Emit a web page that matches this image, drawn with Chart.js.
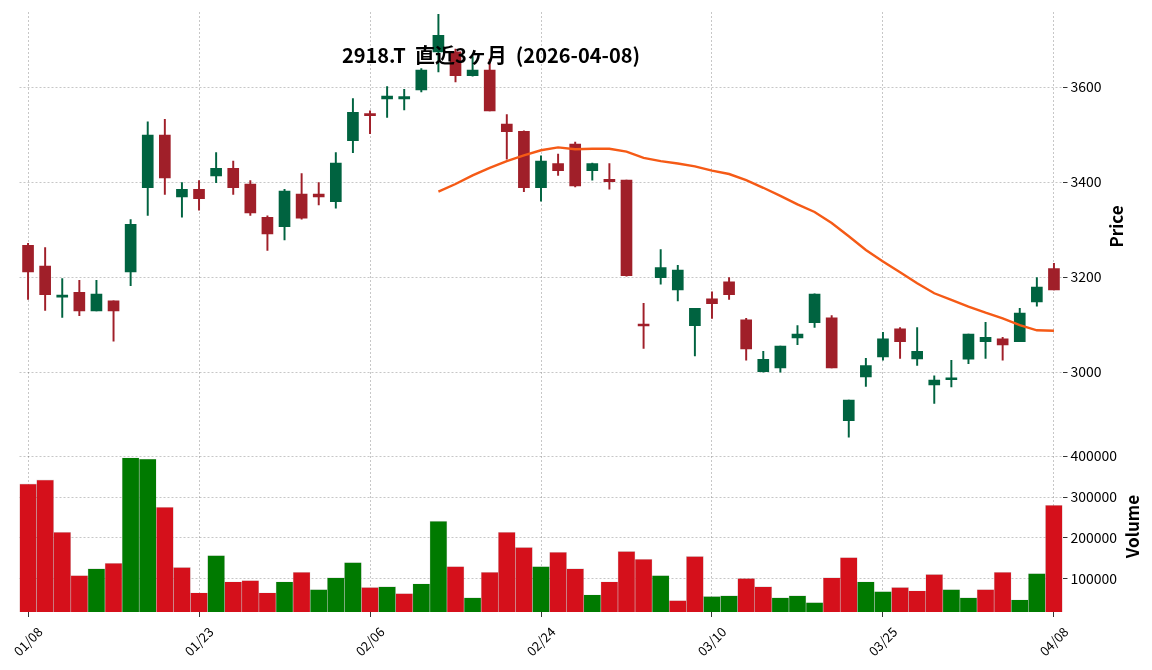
<!DOCTYPE html>
<html>
<head>
<meta charset="utf-8">
<script src="https://cdn.jsdelivr.net/npm/chart.js@4/dist/chart.umd.min.js"></script>
<style>
html, body { margin: 0; padding: 0; background: #fff; }
</style>
</head>
<body>
<canvas id="chart" width="1152" height="670"></canvas>
<script>
// 2918.T daily candles, last 3 months
var dates = ["01/08","01/09","01/13","01/14","01/15","01/16","01/19","01/20","01/21","01/22",
	"01/23","01/26","01/27","01/28","01/29","01/30","02/02","02/03","02/04","02/05",
	"02/06","02/09","02/10","02/12","02/13","02/16","02/17","02/18","02/19","02/20",
	"02/24","02/25","02/26","02/27","03/02","03/03","03/04","03/05","03/06","03/09",
	"03/10","03/11","03/12","03/13","03/16","03/17","03/18","03/19","03/23","03/24",
	"03/25","03/26","03/27","03/30","03/31","04/01","04/02","04/03","04/06","04/07",
	"04/08"];
var opens = [3267,3223,3158,3168,3129,3150,3211,3388,3499,3369,
	3385,3413,3429,3396,3326,3306,3375,3375,3359,3487,
	3544,3575,3575,3594,3674,3674,3624,3636,3522,3507,
	3388,3439,3480,3424,3406,3404,3101,3199,3173,3098,
	3154,3190,3110,3001,3009,3072,3104,3114,2898,2990,
	3032,3091,3028,2973,2984,3027,3064,3070,3064,3148,
	3218];
var highs = [3271,3262,3197,3193,3193,3150,3321,3527,3532,3399,
	3403,3462,3444,3403,3329,3385,3418,3399,3462,3576,
	3550,3601,3595,3639,3753,3680,3664,3659,3542,3508,
	3455,3459,3484,3440,3439,3404,3145,3258,3225,3134,
	3169,3199,3113,3044,3055,3098,3165,3119,2941,3029,
	3084,3094,3094,2992,3025,3080,3105,3073,3134,3199,
	3229];
var lows = [3153,3130,3115,3119,3129,3065,3182,3330,3374,3326,
	3341,3399,3374,3330,3256,3278,3322,3352,3345,3462,
	3502,3536,3552,3590,3632,3611,3623,3550,3448,3380,
	3360,3414,3390,3404,3385,3202,3050,3185,3150,3034,
	3113,3153,3025,3000,3000,3058,3094,3009,2863,2970,
	3025,3029,3014,2934,2969,3018,3029,3025,3064,3139,
	3173];
var closes = [3211,3163,3162,3129,3164,3129,3311,3499,3409,3385,
	3365,3429,3388,3335,3291,3381,3324,3369,3440,3547,
	3540,3581,3580,3636,3709,3624,3636,3550,3506,3388,
	3444,3424,3392,3439,3401,3203,3097,3220,3215,3134,
	3144,3163,3049,3027,3055,3080,3164,3009,2941,3014,
	3070,3064,3044,2983,2988,3080,3073,3057,3124,3179,
	3173];
var volumes = [332000,342000,214000,108000,125000,138000,396000,393000,275000,128000,
	66000,157000,93000,96000,66000,93000,116000,74000,103000,140000,
	79000,81000,64000,88000,241000,130000,54000,116000,214000,177000,
	130000,165000,125000,61000,93000,167000,148000,108000,47000,155000,
	57000,59000,101000,81000,54000,59000,42000,103000,152000,93000,
	69000,79000,71000,111000,74000,54000,74000,116000,49000,113000,
	280000];
// 25-day moving average
var ma25 = [null,null,null,null,null,null,null,null,null,null,
	null,null,null,null,null,null,null,null,null,null,
	null,null,null,null,3380,3396,3414,3430,3444,3456,
	3467,3473,3469,3470,3470,3464,3451,3444,3439,3433,
	3424,3417,3404,3388,3371,3353,3337,3314,3286,3257,
	3233,3210,3187,3166,3152,3138,3125,3113,3099,3088,
	3087];
var priceTicks = [3000, 3200, 3400, 3600];
var volumeTicks = [100000, 200000, 300000, 400000];

var upColor = "#006340";
var downColor = "#a01f29";
var volUp = "#007a00";
var volDown = "#d5101b";
var gridColor = "rgba(0,0,0,0.28)";

Chart.defaults.font.family = '"Noto Sans CJK JP", "DejaVu Sans", sans-serif';
Chart.defaults.color = "#000";

var candleColors = dates.map(function(d, i) {
	return closes[i] >= opens[i] ? upColor : downColor;
});
var volColors = dates.map(function(d, i) {
	if (i === 0) return volDown;
	return closes[i] >= closes[i - 1] ? volUp : volDown;
});
var wickData = dates.map(function(d, i) { return [lows[i], highs[i]]; });
var bodyData = dates.map(function(d, i) { return [opens[i], closes[i]]; });

var textPlugin = {
	id: "texts",
	afterDraw: function(chart) {
		var ctx = chart.ctx;
		ctx.save();
		ctx.fillStyle = "#000";
		ctx.textAlign = "center";
		ctx.textBaseline = "middle";
		ctx.font = 'bold 20px "Noto Sans CJK JP"';
		ctx.fillText("2918.T  直近3ヶ月  (2026-04-08)", 491, 55);

		var py = chart.scales.y, vy = chart.scales.yv;
		ctx.font = 'bold 17px "Noto Sans CJK JP"';
		ctx.translate(py.right - 35, (py.top + py.bottom) / 2);
		ctx.rotate(-Math.PI / 2);
		ctx.fillText("Price", 0, 0);
		ctx.setTransform(1, 0, 0, 1, 0, 0);
		ctx.translate(vy.right - 19, (vy.top + vy.bottom) / 2);
		ctx.rotate(-Math.PI / 2);
		ctx.fillText("Volume", 0, 0);
		ctx.restore();
	}
};

new Chart(document.getElementById("chart"), {
	type: "bar",
	data: {
		labels: dates,
		datasets: [{
			type: "line",
			data: ma25,
			yAxisID: "y",
			borderColor: "#f55a16",
			borderWidth: 2.4,
			pointRadius: 0,
			spanGaps: false,
			order: 0
		}, {
			data: bodyData,
			yAxisID: "y",
			backgroundColor: candleColors,
			barThickness: 11,
			grouped: false,
			order: 1
		}, {
			data: wickData,
			yAxisID: "y",
			backgroundColor: candleColors,
			barThickness: 1.3,
			grouped: false,
			order: 2
		}, {
			data: volumes,
			yAxisID: "yv",
			backgroundColor: volColors,
			borderColor: "rgba(0,0,0,0.15)",
			borderWidth: 0.6,
			barPercentage: 1,
			categoryPercentage: 1,
			grouped: false,
			order: 3
		}]
	},
	options: {
		responsive: false,
		animation: false,
		devicePixelRatio: 1,
		layout: { padding: { left: 19.5, top: 12, right: 0, bottom: 0 } },
		plugins: { legend: { display: false }, tooltip: { enabled: false }, title: { display: false } },
		scales: {
			x: {
				type: "category",
				offset: true,
				grid: {
					offset: false,
					color: function(c) { return c.index % 10 === 0 ? gridColor : "rgba(0,0,0,0)"; },
					tickColor: function(c) { return c.index % 10 === 0 ? "#000" : "rgba(0,0,0,0)"; },
					lineWidth: 0.8,
					tickLength: 5
				},
				border: { display: false, dash: [2, 2] },
				ticks: {
					autoSkip: false,
					minRotation: 45,
					maxRotation: 45,
					font: { size: 13 },
					padding: 7,
					labelOffset: 12,
					callback: function(v, i) { return i % 10 === 0 ? dates[i] : ""; }
				},
				afterFit: function(s) {
					s.height = 58;
					s.paddingLeft = 0;
					s.paddingRight = 0;
				}
			},
			y: {
				position: "right",
				stack: "panes",
				stackWeight: 429,
				min: 2855,
				max: 3758,
				afterBuildTicks: function(s) {
					s.ticks = priceTicks.map(function(v) { return { value: v }; });
				},
				grid: { color: gridColor, lineWidth: 0.8, tickLength: 5, tickColor: "#000" },
				border: { display: false, dash: [2, 2] },
				ticks: { font: { size: 14 }, padding: 3, callback: function(v) { return String(v); } },
				afterFit: function(s) { s.width = 89.5; }
			},
			yv: {
				position: "right",
				stack: "panes",
				stackWeight: 171,
				min: 19000,
				max: 437000,
				afterBuildTicks: function(s) {
					s.ticks = volumeTicks.map(function(v) { return { value: v }; });
				},
				grid: { color: gridColor, lineWidth: 0.8, tickLength: 5, tickColor: "#000" },
				border: { display: false, dash: [2, 2] },
				ticks: { font: { size: 14 }, padding: 3, callback: function(v) { return String(v); } },
				afterFit: function(s) { s.width = 89.5; }
			}
		}
	},
	plugins: [textPlugin]
});
</script>
</body>
</html>
